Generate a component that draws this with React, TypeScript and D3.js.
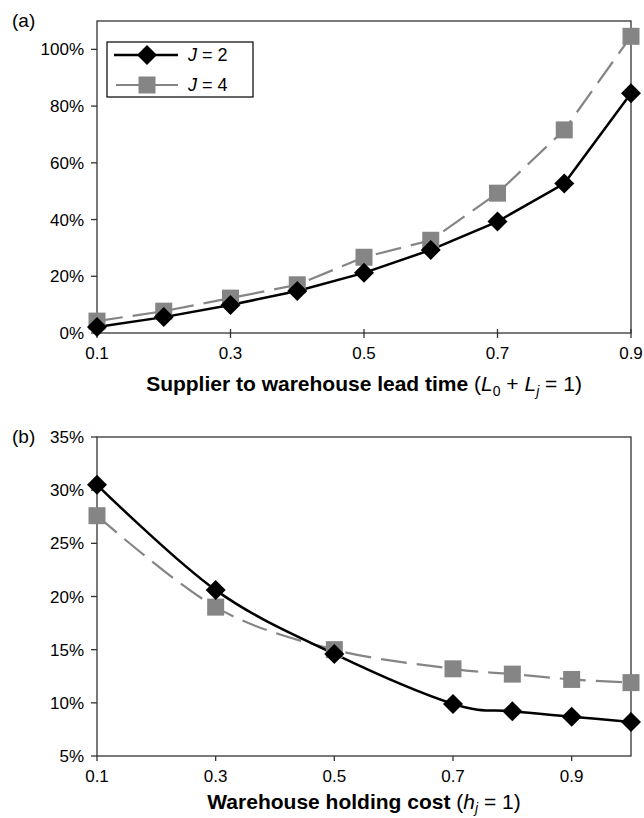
import React from "react";
import * as d3 from "d3";

// panel (a): supplier to warehouse lead time
const leadTimes = [0.1, 0.2, 0.3, 0.4, 0.5, 0.6, 0.7, 0.8, 0.9];
const leadJ2 = [0.021, 0.056, 0.099, 0.148, 0.212, 0.293, 0.393, 0.527, 0.845];
const leadJ4 = [0.042, 0.077, 0.123, 0.17, 0.267, 0.327, 0.493, 0.716, 1.046];
const leadYTicks = [0, 0.2, 0.4, 0.6, 0.8, 1.0];

// panel (b): warehouse holding cost
const holdCosts = [0.1, 0.3, 0.5, 0.7, 0.8, 0.9, 1.0];
const holdJ2 = [0.305, 0.206, 0.146, 0.099, 0.092, 0.087, 0.082];
const holdJ4 = [0.276, 0.19, 0.15, 0.132, 0.127, 0.122, 0.119];
const holdYTicks = [0.05, 0.1, 0.15, 0.2, 0.25, 0.3, 0.35];

const xTicks = [0.1, 0.3, 0.5, 0.7, 0.9];

const FONT = "'Liberation Sans', Arial, Helvetica, sans-serif";
const GRAY = "#858585";
const DASH = "26,10";
const left = 97;
const right = 631;

const diamondPath = d3.symbol(d3.symbolSquare, 200)();
const squarePath = d3.symbol(d3.symbolSquare, 289)();

function Panel(props) {
	const { top, bottom, xDomain, yDomain, xs, j2, j4, yTicks, curve, label, crossTicks, children, titleY } = props;

	const x = d3.scaleLinear().domain(xDomain).range([left, right]);
	const y = d3.scaleLinear().domain(yDomain).range([bottom, top]);
	const fmt = d3.format(".0%");

	const line = d3
		.line()
		.x((d) => x(d[0]))
		.y((d) => y(d[1]))
		.curve(curve);

	const pts2 = xs.map((v, i) => [v, j2[i]]);
	const pts4 = xs.map((v, i) => [v, j4[i]]);

	return (
		<g>
			<text x={12} y={top + 6} fontSize={19} fontFamily={FONT}>
				{label}
			</text>
			<rect x={left} y={top} width={right - left} height={bottom - top} fill="none" stroke="#333" strokeWidth={1.3} />
			{yTicks.map((t) => (
				<g key={"y" + t}>
					<line x1={left - 6} x2={left} y1={y(t)} y2={y(t)} stroke="#333" strokeWidth={1.3} />
					<text x={left - 13} y={y(t) + 6} textAnchor="end" fontSize={17} fontFamily={FONT}>
						{fmt(t)}
					</text>
				</g>
			))}
			{xTicks.map((t) => (
				<g key={"x" + t}>
					<line x1={x(t)} x2={x(t)} y1={crossTicks ? bottom - 4 : bottom} y2={bottom + 5} stroke="#333" strokeWidth={1.3} />
					<text x={x(t)} y={bottom + 26} textAnchor="middle" fontSize={17} fontFamily={FONT}>
						{t.toFixed(1)}
					</text>
				</g>
			))}
			<path d={line(pts4)} fill="none" stroke={GRAY} strokeWidth={2.2} strokeDasharray={DASH} />
			<path d={line(pts2)} fill="none" stroke="#000" strokeWidth={2.5} />
			{pts4.map((p, i) => (
				<path key={"s" + i} d={squarePath} transform={`translate(${x(p[0])},${y(p[1])})`} fill={GRAY} />
			))}
			{pts2.map((p, i) => (
				<path key={"d" + i} d={diamondPath} transform={`translate(${x(p[0])},${y(p[1])}) rotate(45)`} fill="#000" />
			))}
			<text x={(left + right) / 2} y={titleY} textAnchor="middle" fontSize={21} fontFamily={FONT}>
				{children}
			</text>
		</g>
	);
}

function Legend() {
	const bx = 107;
	const by = 42;
	const rows = [
		{ y: 55, name: "2", color: "#000", dash: null, marker: "d" },
		{ y: 85, name: "4", color: GRAY, dash: DASH, marker: "s" }
	];
	return (
		<g>
			<rect x={bx} y={by} width={146} height={55} fill="#fff" stroke="#000" strokeWidth={1.2} />
			{rows.map((r) => (
				<g key={r.name}>
					<line
						x1={114}
						x2={178}
						y1={r.y}
						y2={r.y}
						stroke={r.color}
						strokeWidth={r.marker === "d" ? 2.5 : 2.2}
						strokeDasharray={r.dash || undefined}
						strokeDashoffset={r.dash ? -2 : undefined}
					/>
					{r.marker === "d" ? (
						<path d={diamondPath} transform={`translate(147,${r.y}) rotate(45)`} fill="#000" />
					) : (
						<path d={squarePath} transform={`translate(147,${r.y})`} fill={GRAY} />
					)}
					<text x={188} y={r.y + 6} fontSize={18} fontFamily={FONT}>
						<tspan fontStyle="italic">J</tspan>
						<tspan>{" = " + r.name}</tspan>
					</text>
				</g>
			))}
		</g>
	);
}

export default function App() {
	return (
		<svg width={644} height={818} style={{ position: "absolute", left: 0, top: 0, background: "#fff" }}>
			<Panel
				top={21}
				bottom={333}
				xDomain={[0.1, 0.9]}
				yDomain={[0, 1.1]}
				xs={leadTimes}
				j2={leadJ2}
				j4={leadJ4}
				yTicks={leadYTicks}
				curve={d3.curveLinear}
				label="(a)"
				crossTicks={true}
				titleY={391}
			>
				<tspan fontWeight="bold">Supplier to warehouse lead time</tspan>
				<tspan> (</tspan>
				<tspan fontStyle="italic">L</tspan>
				<tspan fontSize={14} dy={5}>0</tspan>
				<tspan dy={-5}> + </tspan>
				<tspan fontStyle="italic">L</tspan>
				<tspan fontSize={14} fontStyle="italic" dy={5}>j</tspan>
				<tspan dy={-5}> = 1)</tspan>
			</Panel>
			<Legend />
			<Panel
				top={437}
				bottom={756}
				xDomain={[0.1, 1.0]}
				yDomain={[0.05, 0.35]}
				xs={holdCosts}
				j2={holdJ2}
				j4={holdJ4}
				yTicks={holdYTicks}
				curve={d3.curveCardinal.tension(0)}
				label="(b)"
				crossTicks={false}
				titleY={809}
			>
				<tspan fontWeight="bold">Warehouse holding cost</tspan>
				<tspan> (</tspan>
				<tspan fontStyle="italic">h</tspan>
				<tspan fontSize={14} fontStyle="italic" dy={4}>j</tspan>
				<tspan dy={-4}> = 1)</tspan>
			</Panel>
		</svg>
	);
}
